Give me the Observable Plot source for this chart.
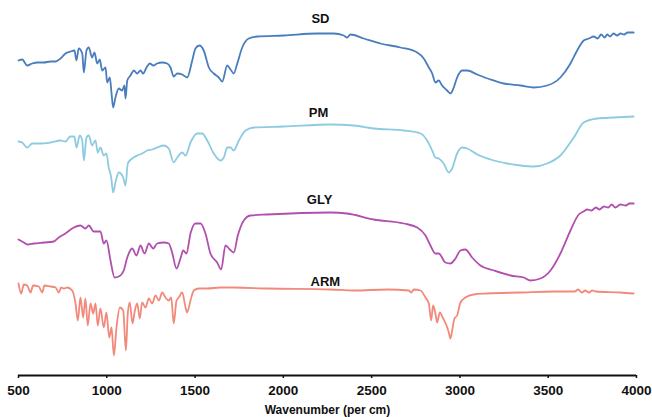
<!DOCTYPE html>
<html><head><meta charset="utf-8">
<script src="https://cdn.jsdelivr.net/npm/d3@7"></script>
<script src="https://cdn.jsdelivr.net/npm/@observablehq/plot@0.6"></script>
<style>
body{margin:0;background:#fff}
#chart svg [aria-label^="x-axis"] text{font-weight:bold;fill:#111}
#chart svg [aria-label="x-axis label"] text{font-size:12px}
</style>
</head><body><div id="chart"></div>
<script>
// [wavenumber (cm-1), offset transmittance (arb. units)]
const SD = [[500,315],[521,316],[549,310],[578,312],[606,313],[643,313],[681,314],[710,314],[738,317],[766,322],[794,324],[817,325],[828,315],[841,327],[861,322],[870,303],[885,325],[898,328],[917,318],[930,323],[946,312],[960,316],[974,305],[993,308],[1002,293],[1017,298],[1027,282],[1036,268],[1049,278],[1068,287],[1087,285],[1100,290],[1106,277],[1116,295],[1134,300],[1153,305],[1172,302],[1191,305],[1206,302],[1225,308],[1244,312],[1263,310],[1285,312],[1314,313],[1342,312],[1361,308],[1379,299],[1399,302],[1427,301],[1455,298],[1484,315],[1502,327],[1525,330],[1549,325],[1578,308],[1606,302],[1634,298],[1654,294],[1682,310],[1701,306],[1719,302],[1739,312],[1767,328],[1804,337],[1852,339],[2002,340],[2192,342],[2286,342],[2342,340],[2361,338],[2380,341],[2455,337],[2550,332],[2663,328],[2758,323],[2795,317],[2824,308],[2843,302],[2861,293],[2880,295],[2899,290],[2928,285],[2946,282],[2965,288],[2984,298],[3013,305],[3041,305],[3098,301],[3173,296],[3248,292],[3343,290],[3418,288],[3494,290],[3569,298],[3626,312],[3664,325],[3701,335],[3730,337],[3758,339],[3780,337],[3800,341],[3820,338],[3834,341],[3850,339],[3870,342],[3890,340],[3909,342],[3930,341],[3950,343],[3984,343]];
const PM = [[500,234],[521,233],[549,228],[578,232],[625,232],[681,233],[738,235],[766,234],[794,239],[817,239],[828,228],[847,240],[861,235],[870,215],[885,238],[898,240],[917,230],[936,235],[949,223],[964,228],[983,220],[998,222],[1011,208],[1025,198],[1036,183],[1049,193],[1068,203],[1093,198],[1106,190],[1119,212],[1144,217],[1172,220],[1200,222],[1229,225],[1257,226],[1285,228],[1323,230],[1351,227],[1379,213],[1399,218],[1427,223],[1446,220],[1474,233],[1512,242],[1540,242],[1569,235],[1606,222],[1644,215],[1663,218],[1682,228],[1701,228],[1719,225],[1748,235],[1786,245],[1833,248],[2002,249],[2267,251],[2399,250],[2512,247],[2682,245],[2777,242],[2814,235],[2843,225],[2861,218],[2880,217],[2908,212],[2937,203],[2956,207],[2984,222],[3013,228],[3041,227],[3098,221],[3173,216],[3268,212],[3343,210],[3418,209],[3494,212],[3569,220],[3645,238],[3701,253],[3777,257],[3871,258],[3984,259]];
const GLY = [[500,136],[530,133],[549,131],[587,132],[643,133],[700,134],[728,138],[766,142],[804,147],[851,150],[879,147],[898,150],[926,144],[964,144],[983,132],[998,135],[1021,115],[1044,98],[1068,99],[1096,105],[1116,118],[1144,127],[1168,120],[1191,130],[1214,122],[1238,132],[1263,127],[1285,132],[1323,133],[1351,132],[1370,123],[1395,107],[1417,117],[1433,125],[1451,122],[1474,142],[1502,152],[1531,152],[1559,142],[1587,122],[1625,113],[1648,106],[1672,130],[1697,126],[1719,123],[1742,140],[1776,155],[1814,160],[1908,161],[2267,163],[2361,162],[2512,156],[2682,152],[2758,148],[2805,140],[2833,130],[2861,122],[2880,122],[2918,113],[2946,112],[2975,117],[3003,125],[3031,126],[3069,118],[3116,110],[3192,105],[3286,100],[3362,98],[3399,95],[3456,97],[3513,105],[3569,122],[3626,145],[3673,161],[3700,164],[3721,166],[3745,165],[3770,168],[3790,166],[3815,169],[3840,168],[3860,171],[3880,168],[3909,171],[3940,170],[3960,172],[3984,172]];
const ARM = [[500,92],[515,82],[530,91],[549,90],[568,83],[583,90],[615,89],[634,83],[647,90],[681,89],[710,88],[728,83],[742,88],[757,87],[776,88],[804,85],[823,72],[836,55],[851,78],[866,58],[879,77],[892,50],[908,72],[923,62],[936,72],[949,50],[964,67],[983,48],[998,63],[1014,38],[1027,48],[1040,20],[1055,48],[1074,68],[1093,65],[1108,25],[1119,62],[1130,73],[1146,52],[1159,65],[1172,72],[1187,57],[1200,73],[1219,68],[1238,77],[1257,72],[1276,80],[1295,75],[1314,83],[1332,78],[1351,75],[1365,78],[1379,52],[1395,75],[1408,78],[1427,83],[1446,68],[1455,63],[1474,75],[1493,85],[1521,87],[1569,87],[1644,88],[1719,88],[1908,87],[2267,86],[2399,85],[2588,86],[2710,85],[2724,83],[2739,86],[2777,85],[2805,78],[2824,72],[2837,55],[2848,70],[2861,62],[2871,53],[2886,63],[2905,57],[2924,50],[2937,43],[2946,37],[2956,45],[2969,57],[2984,60],[3003,73],[3031,78],[3078,81],[3154,82],[3343,83],[3531,84],[3650,84],[3670,86],[3690,83],[3710,85],[3730,83],[3750,85],[3770,84],[3909,83],[3984,82]];

const seriesNames = ["SD", "PM", "GLY", "ARM"];
const seriesColors = ["#4a7dbd", "#8ccbe0", "#b24fae", "#f2897b"];
const labelWave = [2210, 2199, 2205, 2238];
const labelLevel = [357, 263, 176, 94];
const xTicks = [500, 1000, 1500, 2000, 2500, 3000, 3500, 4000];
const xTitle = "Wavenumber (per cm)";

const rows = [];
[SD, PM, GLY, ARM].forEach((s, i) => s.forEach(([w, v]) => rows.push({series: seriesNames[i], w, v})));
const labels = seriesNames.map((n, i) => ({name: n, w: labelWave[i], v: labelLevel[i]}));

const chart = Plot.plot({
  width: 652, height: 417,
  marginLeft: 18, marginRight: 16, marginTop: 0, marginBottom: 42,
  style: {fontFamily: "'Liberation Sans', Arial, sans-serif", background: "#fff", color: "#111"},
  x: {domain: [500, 4000]},
  y: {domain: [0, 375], axis: null},
  color: {domain: seriesNames, range: seriesColors},
  marks: [
    Plot.line(rows, {x: "w", y: "v", z: "series", stroke: "series", strokeWidth: 1.8, curve: "monotone-x", strokeLinejoin: "round"}),
    Plot.ruleY([0], {stroke: "#111", strokeWidth: 2.2}),
    Plot.axisX({ticks: xTicks, tickSize: 3, tickPadding: 7, fontSize: 13.5, tickFormat: d => String(d),
      label: xTitle, labelAnchor: "center", labelOffset: 38, labelArrow: "none", stroke: "#111", strokeWidth: 1.5}),
    Plot.text(labels, {x: "w", y: "v", text: "name", fontWeight: "bold", fontSize: 13, fill: "#111"})
  ]
});
document.getElementById("chart").appendChild(chart);
</script>
</body></html>
